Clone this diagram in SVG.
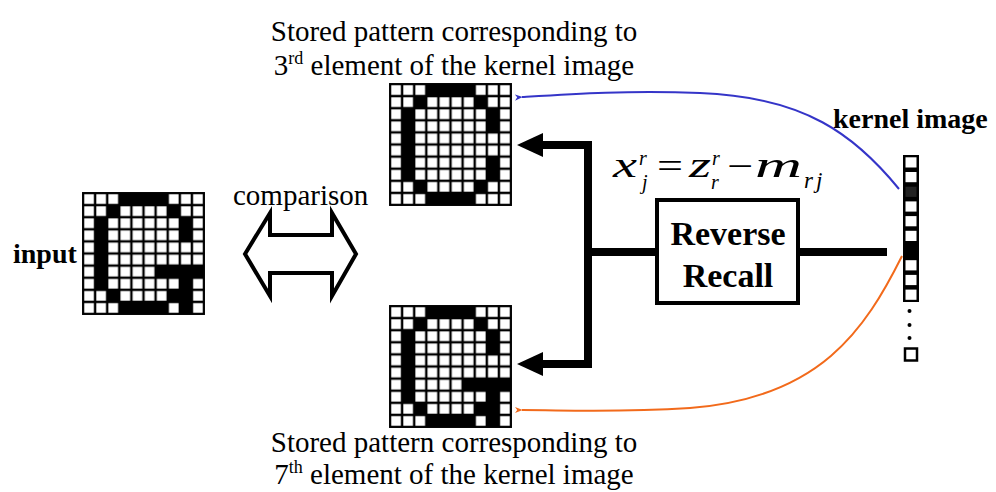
<svg xmlns="http://www.w3.org/2000/svg" width="996" height="492" viewBox="0 0 996 492">
<style>
  text { font-family: "Liberation Serif", "Times New Roman", serif; fill: #000; }
  .cap { font-size: 29px; text-anchor: middle; }
  .bold { font-weight: bold; }
  .it { font-style: italic; }
  .thick { stroke: #000; stroke-width: 8; fill: none; }
</style>
<defs>
  <pattern id="cells" patternUnits="userSpaceOnUse" width="1" height="1">
    <rect width="1" height="1" fill="#000"/>
    <rect x="0.1" y="0.1" width="0.8" height="0.8" fill="#fff"/>
  </pattern>
  <g id="gridBase">
    <rect x="-0.08" y="-0.08" width="10.16" height="10.16" fill="#000"/>
    <rect width="10" height="10" fill="url(#cells)"/>
  </g>
  <g id="common">
    <rect x="3" y="0" width="4" height="1"/>
    <rect x="2" y="1" width="1" height="1"/>
    <rect x="7" y="1" width="1" height="1"/>
    <rect x="1" y="2" width="1" height="6"/>
    <rect x="8" y="2" width="1" height="2"/>
    <rect x="2" y="8" width="1" height="1"/>
    <rect x="7" y="8" width="1" height="1"/>
    <rect x="3" y="9" width="4" height="1"/>
  </g>
  <g id="patO">
    <use href="#gridBase"/>
    <use href="#common"/>
    <rect x="8" y="6" width="1" height="2"/>
  </g>
  <g id="patG">
    <use href="#gridBase"/>
    <use href="#common"/>
    <rect x="6" y="6" width="4" height="1"/>
    <rect x="8" y="7" width="1" height="3"/>
  </g>
  <marker id="arrBlue" viewBox="0 0 10 10" refX="1" refY="5" markerWidth="8" markerHeight="8" orient="auto-start-reverse" markerUnits="userSpaceOnUse">
    <path d="M10,1 L0,5 L10,9 L7,5 Z" fill="#3535c8"/>
  </marker>
  <marker id="arrOrange" viewBox="0 0 10 10" refX="1" refY="5" markerWidth="8" markerHeight="8" orient="auto-start-reverse" markerUnits="userSpaceOnUse">
    <path d="M10,1 L0,5 L10,9 L7,5 Z" fill="#f26a1b"/>
  </marker>
</defs>
<rect width="996" height="492" fill="#fff"/>

<!-- captions -->
<g id="caption-top">
  <text class="cap" x="454" y="41">Stored pattern corresponding to</text>
  <text class="cap" x="454" y="75">3<tspan font-size="18" dy="-11">rd</tspan><tspan dy="11"> element of the kernel image</tspan></text>
</g>
<g id="caption-bottom">
  <text class="cap" x="454" y="452">Stored pattern corresponding to</text>
  <text class="cap" x="454" y="484">7<tspan font-size="18" dy="-11">th</tspan><tspan dy="11"> element of the kernel image</tspan></text>
</g>

<!-- input -->
<g id="input">
  <text class="bold" x="13" y="263" font-size="28">input</text>
  <g transform="translate(83,193) scale(12.1)"><use href="#patG"/></g>
</g>

<!-- comparison -->
<g id="comparison">
  <text x="233" y="205" font-size="29">comparison</text>
  <polygon points="245,254 270,213 270,235 332,235 332,213 356,254 332,296 332,273 270,273 270,296" fill="#fff" stroke="#000" stroke-width="4"/>
</g>

<!-- stored patterns -->
<g id="stored-3">
  <g transform="translate(390,84) scale(12.1)"><use href="#patO"/></g>
</g>
<g id="stored-7">
  <g transform="translate(390,306) scale(12.1)"><use href="#patG"/></g>
</g>

<!-- formula -->
<g id="formula" font-size="36">
  <text class="it" x="613" y="177" textLength="24" lengthAdjust="spacingAndGlyphs">x</text>
  <text class="it" x="639" y="165" font-size="20">r</text>
  <text class="it" x="642" y="189" font-size="20">j</text>
  <text x="657" y="178" textLength="26" lengthAdjust="spacingAndGlyphs">=</text>
  <text class="it" x="689" y="177" textLength="22" lengthAdjust="spacingAndGlyphs">z</text>
  <text class="it" x="712" y="165" font-size="20">r</text>
  <text class="it" x="711" y="189" font-size="20">r</text>
  <text x="727" y="178" textLength="26" lengthAdjust="spacingAndGlyphs">−</text>
  <text class="it" x="755" y="177" textLength="47" lengthAdjust="spacingAndGlyphs">m</text>
  <text class="it" x="804" y="188" font-size="23" letter-spacing="3">rj</text>
</g>

<!-- reverse recall box -->
<g id="reverse-recall">
  <rect x="657" y="200" width="141" height="103" fill="#fff" stroke="#000" stroke-width="4"/>
  <text class="bold" x="728" y="245" font-size="34" text-anchor="middle">Reverse</text>
  <text class="bold" x="728" y="287" font-size="34" text-anchor="middle">Recall</text>
</g>

<!-- kernel image -->
<g id="kernel">
  <text class="bold" x="833" y="128" font-size="28">kernel image</text>
  <rect x="903" y="155" width="16" height="147" fill="#000"/>
  <g fill="#fff">
    <rect x="905.5" y="157.3" width="11" height="10.2"/>
    <rect x="905.5" y="172" width="11" height="10.2"/>
    <rect x="905.5" y="186.7" width="11" height="10.2" fill="#222"/>
    <rect x="905.5" y="201.4" width="11" height="10.2"/>
    <rect x="905.5" y="216.1" width="11" height="10.2"/>
    <rect x="905.5" y="230.8" width="11" height="10.2"/>
    <rect x="905.5" y="245.5" width="11" height="10.2" fill="#000"/>
    <rect x="905.5" y="260.2" width="11" height="10.2"/>
    <rect x="905.5" y="274.9" width="11" height="10.2"/>
    <rect x="905.5" y="289.6" width="11" height="10.2"/>
  </g>
  <circle cx="909.5" cy="311" r="2"/>
  <circle cx="909.5" cy="325" r="2"/>
  <circle cx="909.5" cy="338" r="2"/>
  <rect x="905" y="348.5" width="12" height="12" fill="#fff" stroke="#000" stroke-width="2.5"/>
</g>

<!-- connectors -->
<g id="connectors">
  <path class="thick" d="M588,145 V364"/>
  <path class="thick" d="M592,145 H540"/>
  <polygon points="517,145 543,133 543,157"/>
  <path class="thick" d="M592,364 H540"/>
  <polygon points="517,364 543,352 543,376"/>
  <path class="thick" d="M584,252 H657"/>
  <path class="thick" d="M798,252 H887"/>
  <path d="M899,189 C855,135 805,97 700,93 C630,90 570,94 522,97" fill="none" stroke="#3535c8" stroke-width="2" marker-end="url(#arrBlue)"/>
  <path d="M902,256 C865,330 820,398 690,408 C610,413 565,410 522,410" fill="none" stroke="#f26a1b" stroke-width="2" marker-end="url(#arrOrange)"/>
</g>
</svg>
